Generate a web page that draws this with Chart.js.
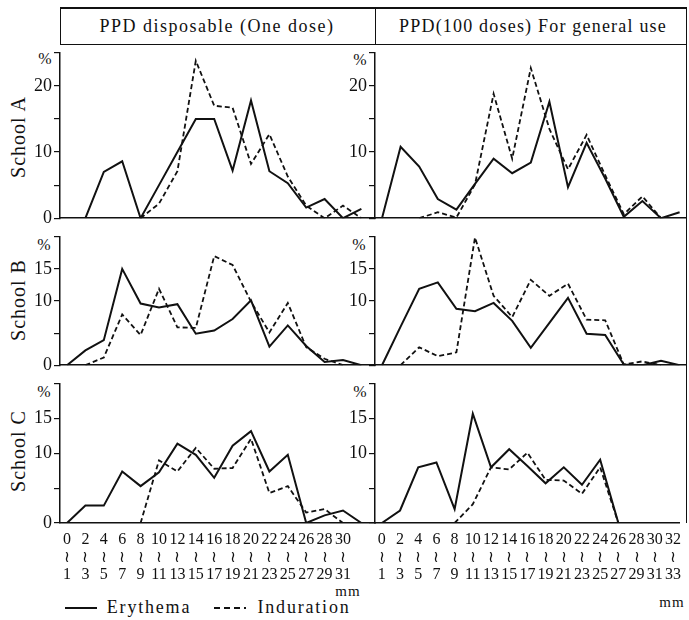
<!DOCTYPE html>
<html>
<head>
<meta charset="utf-8">
<title>PPD reaction size distribution</title>
<script src="https://cdn.jsdelivr.net/npm/chart.js@4.4.0/dist/chart.umd.min.js"></script>
<style>
  html, body { margin: 0; padding: 0; background: #fff; overflow: hidden; }
  #page { position: relative; width: 689px; height: 620px; font-family: 'Liberation Serif', serif; color: #111; }
  .panel { position: absolute; }
  .txt { position: absolute; white-space: nowrap; transform: translate(-50%, -50%); }
  .rule { position: absolute; background: #111; }
</style>
</head>
<body>
<div id="page">
  <!-- frame -->
  <div class="rule" style="left:60px; top:7px; width:627px; height:1.5px"></div>
  <div class="rule" style="left:60px; top:43.5px; width:627px; height:1.5px"></div>
  <div class="rule" style="left:59.5px; top:7px; width:1.5px; height:38px"></div>
  <div class="rule" style="left:374.5px; top:7px; width:1.5px; height:38px"></div>
  <div class="rule" style="left:685.5px; top:7px; width:1.5px; height:516px"></div>

  <!-- column titles -->
  <div class="txt" style="left:217px; top:26px; font-size:18px; letter-spacing:1.5px">PPD disposable (One dose)</div>
  <div class="txt" style="left:533px; top:26px; font-size:18px; letter-spacing:1.2px">PPD(100 doses) For general use</div>

  <!-- row titles -->
  <div class="txt" style="left:18px; top:137px; font-size:20px; letter-spacing:1px; transform:translate(-50%,-50%) rotate(-90deg)">School A</div>
  <div class="txt" style="left:18px; top:300px; font-size:20px; letter-spacing:1px; transform:translate(-50%,-50%) rotate(-90deg)">School B</div>
  <div class="txt" style="left:18px; top:451px; font-size:20px; letter-spacing:1px; transform:translate(-50%,-50%) rotate(-90deg)">School C</div>

  <!-- % unit marks -->
  <div class="txt" style="left:45px; top:59px; font-size:16px">%</div>
  <div class="txt" style="left:360px; top:60px; font-size:16px">%</div>
  <div class="txt" style="left:44px; top:245px; font-size:16px">%</div>
  <div class="txt" style="left:359px; top:245px; font-size:16px">%</div>
  <div class="txt" style="left:44px; top:392px; font-size:16px">%</div>
  <div class="txt" style="left:360px; top:392px; font-size:16px">%</div>

  <div class="txt" style="left:348px; top:591px; font-size:15px; letter-spacing:1px">mm</div>
  <div class="txt" style="left:672px; top:602px; font-size:15px; letter-spacing:1px">mm</div>

  <!-- legend -->
  <div class="rule" style="left:65px; top:607px; width:32px; height:2px"></div>
  <div class="txt" style="left:149px; top:607px; font-size:18px; letter-spacing:1.8px">Erythema</div>
  <div class="rule" style="left:214px; top:607px; width:32px; height:2px; background:repeating-linear-gradient(90deg,#111 0 6px,transparent 6px 10px)"></div>
  <div class="txt" style="left:304px; top:607px; font-size:18px; letter-spacing:1.8px">Induration</div>
</div>

<script>
// reaction size classes (mm): "0~1", "2~3", ...
const binStartLeft = [0, 2, 4, 6, 8, 10, 12, 14, 16, 18, 20, 22, 24, 26, 28, 30];
const binEndLeft = [1, 3, 5, 7, 9, 11, 13, 15, 17, 19, 21, 23, 25, 27, 29, 31];
const binStartRight = [0, 2, 4, 6, 8, 10, 12, 14, 16, 18, 20, 22, 24, 26, 28, 30, 32];
const binEndRight = [1, 3, 5, 7, 9, 11, 13, 15, 17, 19, 21, 23, 25, 27, 29, 31, 33];

// y axis: top value and labelled ticks per row (A, B, C)
const yMaxRows = [25, 20, 20];
const yLabelsLeft = [[0, 10, 20], [0, 10, 15], [0, 10, 15]];
const yLabelsRight = [[10, 20], [10, 15], [10, 15]];

// % of pupils per size class, PPD disposable (one dose)
const schoolAOneEry = [null, 0, 7.0, 8.6, 0, 5.0, 10.0, 15.0, 15.0, 7.2, 17.8, 7.1, 5.3, 1.6, 2.9, 0, 1.4];
const schoolAOneInd = [null, null, null, null, 0, 2.2, 7.1, 23.8, 17.0, 16.7, 8.2, 12.7, 6.3, 1.9, 0, 1.9, 0];
const schoolBOneEry = [0, 2.3, 3.9, 15.0, 9.6, 9.0, 9.5, 4.9, 5.4, 7.2, 10.1, 2.9, 6.2, 3.0, 0.5, 0.8, 0];
const schoolBOneInd = [null, 0, 1.2, 7.9, 4.7, 11.9, 5.9, 5.8, 17.0, 15.6, 9.9, 5.1, 9.7, 2.8, 1.0, 0, null];
const schoolCOneEry = [0, 2.5, 2.5, 7.4, 5.3, 7.3, 11.4, 9.8, 6.5, 11.1, 13.2, 7.4, 9.8, 0, 1.1, 1.8, 0];
const schoolCOneInd = [null, null, null, null, 0, 9.0, 7.4, 10.8, 7.8, 7.9, 12.1, 4.3, 5.3, 1.5, 2.0, 0, null];

// % of pupils per size class, PPD 100 doses (general use)
const schoolAHundredEry = [0, 10.8, 7.8, 2.9, 1.3, 5.2, 9.0, 6.8, 8.4, 17.6, 4.7, 11.4, 6.0, 0.2, 2.6, 0, 0.9];
const schoolAHundredInd = [null, null, 0, 0.9, 0.1, 5.1, 18.8, 9.0, 22.7, 13.5, 7.4, 12.6, 6.5, 0.6, 3.3, 0, null];
const schoolBHundredEry = [0, 6.0, 11.9, 12.9, 8.8, 8.4, 9.7, 6.9, 2.7, 6.6, 10.5, 4.9, 4.7, 0.1, 0, 0.7, 0];
const schoolBHundredInd = [null, 0, 2.8, 1.4, 2.0, 19.9, 10.8, 7.5, 13.3, 10.8, 12.7, 7.1, 7.0, 0.1, 0.6, 0, null];
const schoolCHundredEry = [0, 1.8, 8.0, 8.7, 2.0, 15.7, 8.0, 10.6, 8.2, 5.7, 8.0, 5.5, 9.1, 0, null, null, null];
const schoolCHundredInd = [null, null, null, null, 0, 2.7, 8.0, 7.7, 10.1, 6.2, 6.1, 4.2, 8.0, 0, null, null, null];

// plot area geometry (px)
const colLeft = [60, 375];
const colRight = [375, 686];
const colFirstX = [67, 382];     // pixel of the first size class
const colStep = [18.4, 18.6];    // pixels between size classes
const rowTop = [44, 228, 375];
const rowBottom = [228, 375, 523];

const INK = '#111';
const SERIF = "'Liberation Serif', serif";

function toPoints(values) {
    return values.map((v, i) => ({ x: i, y: v }));
}

/**
 * Draws one panel (one school, one PPD type) as its own line chart.
 */
function makePanel(col, row, ery, ind) {
    const yAxisW = 50, padTop = 4, padRight = 3;
    const showX = row === 2;
    const xAxisH = showX ? 70 : 0;
    const padBottom = showX ? 0 : 3;
    const w = colRight[col] - colLeft[col];
    const h = rowBottom[row] - rowTop[row];

    const box = document.createElement('div');
    box.className = 'panel';
    box.style.left = (colLeft[col] - yAxisW) + 'px';
    box.style.top = (rowTop[row] - padTop) + 'px';
    const canvas = document.createElement('canvas');
    canvas.width = yAxisW + w + padRight;
    canvas.height = padTop + h + xAxisH + padBottom;
    box.appendChild(canvas);
    document.getElementById('page').appendChild(box);

    const starts = col === 0 ? binStartLeft : binStartRight;
    const ends = col === 0 ? binEndLeft : binEndRight;
    const yLabels = col === 0 ? yLabelsLeft[row] : yLabelsRight[row];
    const xMin = -(colFirstX[col] - colLeft[col]) / colStep[col];

    new Chart(canvas.getContext('2d'), {
        type: 'line',
        data: {
            datasets: [{
                label: 'Erythema',
                data: toPoints(ery),
                borderColor: INK,
                borderWidth: 2,
                pointRadius: 0,
                tension: 0
            }, {
                label: 'Induration',
                data: toPoints(ind),
                borderColor: INK,
                borderWidth: 1.8,
                borderDash: [5, 3],
                pointRadius: 0,
                tension: 0
            }]
        },
        options: {
            responsive: false,
            animation: false,
            devicePixelRatio: 1,
            layout: {
                autoPadding: false,
                padding: { top: padTop, right: padRight, bottom: padBottom, left: 0 }
            },
            scales: {
                x: {
                    type: 'linear',
                    min: xMin,
                    max: xMin + w / colStep[col],
                    // one tick per size class
                    afterBuildTicks: s => { s.ticks = starts.map((_, i) => ({ value: i })); },
                    afterFit: s => { s.height = xAxisH; },
                    grid: { display: false, drawTicks: false },
                    border: { display: true, color: INK, width: 1.5 },
                    ticks: {
                        display: showX,
                        autoSkip: false,
                        maxRotation: 0,
                        padding: 8,
                        color: INK,
                        font: { family: SERIF, size: 16, lineHeight: 1.1 },
                        callback: v => v < starts.length ? [String(starts[v]), '≀', String(ends[v])] : ''
                    }
                },
                y: {
                    min: 0,
                    max: yMaxRows[row],
                    afterFit: s => { s.width = yAxisW; },
                    grid: { drawOnChartArea: false, drawTicks: true, tickLength: 6, color: INK, lineWidth: 1.2 },
                    border: { display: true, color: INK, width: 1.5 },
                    ticks: {
                        stepSize: 5,
                        autoSkip: false,
                        padding: 2,
                        color: INK,
                        font: { family: SERIF, size: 18 },
                        callback: v => yLabels.includes(v) ? String(v) : ''
                    }
                }
            },
            plugins: {
                legend: { display: false },
                tooltip: { enabled: false }
            }
        }
    });
}

makePanel(0, 0, schoolAOneEry, schoolAOneInd);
makePanel(0, 1, schoolBOneEry, schoolBOneInd);
makePanel(0, 2, schoolCOneEry, schoolCOneInd);
makePanel(1, 0, schoolAHundredEry, schoolAHundredInd);
makePanel(1, 1, schoolBHundredEry, schoolBHundredInd);
makePanel(1, 2, schoolCHundredEry, schoolCHundredInd);
</script>
</body>
</html>
